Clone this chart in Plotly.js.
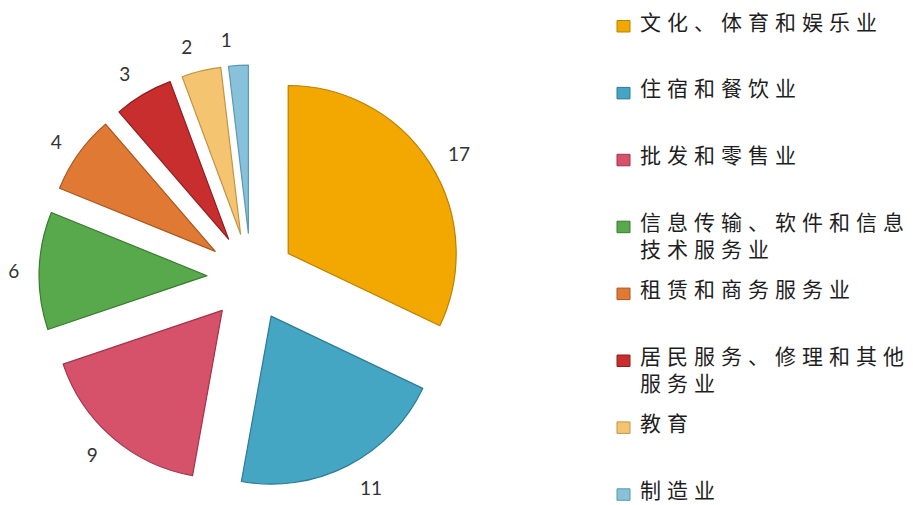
<!DOCTYPE html>
<html>
<head>
<meta charset="utf-8">
<script src="https://cdn.plot.ly/plotly-3.0.1.min.js"></script>
<style>
html,body{margin:0;padding:0;background:#fff;}
#chart{width:913px;height:505px;}
</style>
</head>
<body>
<div id="chart"></div>
<script>
// Categories (legend labels, in slice order, clockwise from 12 o'clock); inner arrays = wrapped lines
var categories = [
  ['文化、体育和娱乐业'],
  ['住宿和餐饮业'],
  ['批发和零售业'],
  ['信息传输、软件和信息', '技术服务业'],
  ['租赁和商务服务业'],
  ['居民服务、修理和其他', '服务业'],
  ['教育'],
  ['制造业']
];
var values = [17, 11, 9, 6, 4, 3, 2, 1];
var sliceColors = ['#F2A800', '#45A6C4', '#D6516A', '#58A84C', '#E07934', '#C82E2E', '#F5C470', '#87C2DA'];
var edgeColors  = ['#B98100', '#2C7A93', '#A0344A', '#3A7A30', '#A9561E', '#8E1C1C', '#C29544', '#5B98B2'];

var W = 913, H = 505;
var names = categories.map(function (l) { return l.join(''); });
var last = values.length - 1;

// Visible exploded pie
var pieTrace = {
  type: 'pie',
  labels: names,
  values: values,
  sort: false,
  direction: 'clockwise',
  rotation: 0,
  pull: values.map(function () { return 0.262; }),
  textinfo: 'none',
  marker: {colors: sliceColors, line: {color: edgeColors, width: 1.2}},
  domain: {x: [0.0427, 0.5071], y: [0.0317, 0.8713]},
  automargin: false,
  showlegend: false,
  hoverinfo: 'label+value+percent'
};

// Same slices, transparent, on a slightly larger circle: they carry the value labels further out.
// The smallest slice gets its own copy so its label is not pushed away by its neighbour.
function labelTrace(show) {
  return {
    type: 'pie',
    labels: names,
    values: values,
    sort: false,
    direction: 'clockwise',
    rotation: 0,
    pull: values.map(function () { return 0.262; }),
    textinfo: 'value',
    textposition: values.map(function (v, i) { return show(i) ? 'outside' : 'none'; }),
    outsidetextfont: {family: 'Lato, "Liberation Sans", sans-serif', size: 19, color: '#333333'},
    marker: {colors: values.map(function () { return 'rgba(0,0,0,0)'; }), line: {width: 0}},
    domain: {x: [0.0274, 0.5225], y: [0.004, 0.899]},
    automargin: false,
    showlegend: false,
    hoverinfo: 'skip'
  };
}
var labelsMain = labelTrace(function (i) { return i !== last; });
var labelsLast = labelTrace(function (i) { return i === last; });

// Legend drawn as text + small swatches, one entry per category
var step = 66.9, firstCenter = 21.5;
var annotations = [], shapes = [];
categories.forEach(function (lines, i) {
  var c = firstCenter + i * step;
  annotations.push({
    xref: 'paper', yref: 'paper',
    x: 638 / W, y: 1 - (c - 18) / H,
    xanchor: 'left', yanchor: 'top', align: 'left',
    showarrow: false,
    text: lines.map(function (l) { return '<span style="letter-spacing:6px">' + l + '</span>'; }).join('<br>'),
    font: {family: '"Noto Sans CJK SC", sans-serif', size: 21, color: '#1e1e1e'}
  });
  shapes.push({
    type: 'rect', xref: 'paper', yref: 'paper',
    x0: 617 / W, x1: 630 / W,
    y0: 1 - (c + 10.5) / H, y1: 1 - (c - 1) / H,
    fillcolor: sliceColors[i],
    line: {color: edgeColors[i], width: 1}
  });
});

var layout = {
  width: W,
  height: H,
  margin: {l: 0, r: 0, t: 0, b: 0},
  paper_bgcolor: '#ffffff',
  plot_bgcolor: '#ffffff',
  showlegend: false,
  annotations: annotations,
  shapes: shapes
};

Plotly.newPlot('chart', [pieTrace, labelsMain, labelsLast], layout, {displayModeBar: false, staticPlot: true});
</script>
</body>
</html>
